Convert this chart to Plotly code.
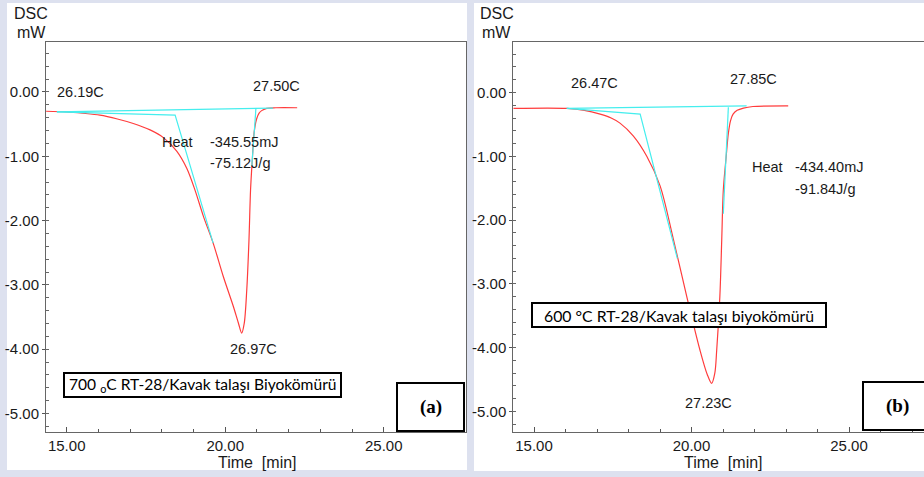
import plotly.graph_objects as go

W, H = 924, 477

# ---------------- data ----------------
# Panel (a): 700 °C biochar
a_time = [14.35, 15.0, 15.5, 16.05, 16.6, 17.1, 17.63, 18.05, 18.47, 18.79, 19.05, 19.31,
          19.62, 19.94, 20.26, 20.42, 20.52, 20.60, 20.68, 20.75,
          20.80, 20.86, 20.91, 20.99, 21.07, 21.15, 21.31, 21.6, 22.27]
a_dsc = [-0.30, -0.31, -0.33, -0.36, -0.42, -0.49, -0.59, -0.71, -0.92, -1.19, -1.53, -1.93,
         -2.35, -2.87, -3.34, -3.60, -3.75, -3.60, -3.08, -2.30,
         -1.52, -1.01, -0.64, -0.42, -0.33, -0.29, -0.255, -0.245, -0.245]
a_base_time = [14.69, 21.51]
a_base_dsc = [-0.31, -0.25]
a_tan_time = [14.69, 18.42, 19.62]
a_tan_dsc = [-0.31, -0.36, -2.35]
a_end_time = [20.97, 20.84]
a_end_dsc = [-0.25, -1.15]

# Panel (b): 600 °C biochar
b_time = [14.34, 16.04, 16.6, 17.10, 17.45, 17.73, 18.15, 18.58, 19.00, 19.42, 19.85, 20.27,
          20.50, 20.64, 20.74, 20.80, 20.90, 20.96, 21.01, 21.10, 21.17, 21.24, 21.32, 21.45,
          21.65, 21.95, 23.07]
b_dsc = [-0.25, -0.25, -0.28, -0.34, -0.40, -0.48, -0.68, -1.00, -1.46, -2.29, -3.20, -4.04,
         -4.42, -4.56, -4.40, -4.04, -3.20, -2.31, -1.53, -1.01, -0.64, -0.44, -0.34, -0.28,
         -0.245, -0.22, -0.21]
b_base_time = [16.04, 21.75]
b_base_dsc = [-0.25, -0.21]
b_tan_time = [16.04, 18.37, 19.55]
b_tan_dsc = [-0.25, -0.34, -2.60]
b_end_time = [21.17, 21.01]
b_end_dsc = [-0.23, -1.90]

x_ticks = [15, 20, 25]
y_ticks = [0, -1, -2, -3, -4, -5]
x_ticktext = ["%.2f" % v for v in x_ticks]
y_ticktext = ["%.2f" % v for v in y_ticks]

RED = "#ff3c3c"
CYAN = "#45eeee"
FONT = "Liberation Sans"

def px(x):
    return x / W

def py(y):
    return 1 - y / H

fig = go.Figure()

for t, v, xa, ya in [(a_time, a_dsc, "x", "y"), (b_time, b_dsc, "x2", "y2")]:
    fig.add_trace(go.Scatter(x=t, y=v, mode="lines", xaxis=xa, yaxis=ya,
                             line=dict(color=RED, width=1.2, shape="spline", smoothing=0.9),
                             showlegend=False, hoverinfo="skip"))

for t, v, xa, ya in [(a_base_time, a_base_dsc, "x", "y"), (a_tan_time, a_tan_dsc, "x", "y"),
                     (a_end_time, a_end_dsc, "x", "y"),
                     (b_base_time, b_base_dsc, "x2", "y2"), (b_tan_time, b_tan_dsc, "x2", "y2"),
                     (b_end_time, b_end_dsc, "x2", "y2")]:
    fig.add_trace(go.Scatter(x=t, y=v, mode="lines", xaxis=xa, yaxis=ya,
                             line=dict(color=CYAN, width=1.2),
                             showlegend=False, hoverinfo="skip"))

def xaxis_cfg(dom, rng, anchor):
    return dict(domain=dom, range=rng, anchor=anchor, tickvals=x_ticks, ticktext=x_ticktext,
                ticks="inside", ticklen=5, tickcolor="#555", showline=True, linecolor="#666",
                linewidth=1, mirror=True, showgrid=False, zeroline=False,
                tickfont=dict(family=FONT, size=15, color="#1a1a1a"),
                minor=dict(dtick=1, tick0=0, ticks="inside", ticklen=3, tickcolor="#555", showgrid=False),
                fixedrange=True)

def yaxis_cfg(dom, rng, anchor):
    return dict(domain=dom, range=rng, anchor=anchor, tickvals=y_ticks, ticktext=y_ticktext,
                ticks="outside", ticklen=3, tickcolor="#555", showline=True, linecolor="#666",
                linewidth=1, mirror=True, showgrid=False, zeroline=False,
                tickfont=dict(family=FONT, size=15, color="#1a1a1a"),
                minor=dict(dtick=0.2, tick0=0, ticks="inside", ticklen=3, tickcolor="#666", showgrid=False),
                fixedrange=True)

shapes = [
    dict(type="rect", xref="paper", yref="paper", x0=px(7), x1=px(467), y0=py(470), y1=py(3),
         fillcolor="white", line=dict(width=0), layer="below"),
    dict(type="rect", xref="paper", yref="paper", x0=px(474), x1=px(924), y0=py(471), y1=py(3),
         fillcolor="white", line=dict(width=0), layer="below"),
    # sample label boxes
    dict(type="rect", xref="paper", yref="paper", x0=px(64), x1=px(341), y0=py(397), y1=py(373),
         fillcolor="white", line=dict(color="black", width=2)),
    dict(type="rect", xref="paper", yref="paper", x0=px(532), x1=px(826), y0=py(327), y1=py(303),
         fillcolor="white", line=dict(color="black", width=2)),
    # panel letter boxes
    dict(type="rect", xref="paper", yref="paper", x0=px(397), x1=px(464), y0=py(431), y1=py(383),
         fillcolor="white", line=dict(color="black", width=2)),
    dict(type="rect", xref="paper", yref="paper", x0=px(863), x1=px(935), y0=py(430), y1=py(382),
         fillcolor="white", line=dict(color="black", width=2)),
]

annotations = []

def txt(x, y, s, xref="paper", yref="paper", xanchor="left", yanchor="middle", size=14.5,
        family=FONT, color="#1a1a1a"):
    annotations.append(dict(x=x, y=y, xref=xref, yref=yref, text=s, showarrow=False,
                            xanchor=xanchor, yanchor=yanchor,
                            font=dict(family=family, size=size, color=color)))

# axis titles
for cx in (31, 497):
    txt(px(cx), py(13), "DSC", xanchor="center", size=16)
    txt(px(cx), py(32), "mW", xanchor="center", size=16)
txt(px(257), py(462), "Time&nbsp;&nbsp;[min]", xanchor="center", size=16)
txt(px(723), py(462), "Time&nbsp;&nbsp;[min]", xanchor="center", size=16)

# panel (a) peak annotations
txt(14.62, 0.0, "26.19C", "x", "y")
txt(20.81, 0.093, "27.50C", "x", "y")
txt(17.94, -0.78, "Heat", "x", "y")
txt(19.46, -0.78, "-345.55mJ", "x", "y")
txt(19.46, -1.10, "-75.12J/g", "x", "y")
txt(20.09, -3.99, "26.97C", "x", "y")

# panel (b) peak annotations
txt(16.11, 0.15, "26.47C", "x2", "y2")
txt(21.16, 0.21, "27.85C", "x2", "y2")
txt(21.86, -1.17, "Heat", "x2", "y2")
txt(23.22, -1.17, "-434.40mJ", "x2", "y2")
txt(23.22, -1.51, "-91.84J/g", "x2", "y2")
txt(19.73, -4.87, "27.23C", "x2", "y2")

# sample labels
txt(px(202.5), py(385), "700 <sub>o</sub>C RT-28/Kavak talaşı Biyokömürü", xanchor="center",
    size=15.6, family="Lato", color="black")
txt(px(679), py(315), "600 °C RT-28/Kavak talaşı biyokömürü", xanchor="center",
    size=15.8, family="Lato", color="black")
txt(px(430.5), py(407), "<b>(a)</b>", xanchor="center", size=19, family="Liberation Serif", color="black")
txt(px(897), py(406), "<b>(b)</b>", xanchor="center", size=19, family="Liberation Serif", color="black")

fig.update_layout(
    width=W, height=H, margin=dict(l=0, r=0, t=0, b=0),
    paper_bgcolor="#dde1ef", plot_bgcolor="white",
    xaxis=xaxis_cfg([px(46), px(466)], [14.347, 27.596], "y"),
    yaxis=yaxis_cfg([py(432), py(41.5)], [-5.288, 0.785], "x"),
    xaxis2=xaxis_cfg([px(513.3), 1.0], [14.343, 27.381], "y2"),
    yaxis2=yaxis_cfg([py(431.7), py(41.7)], [-5.317, 0.796], "x2"),
    shapes=shapes, annotations=annotations, showlegend=False,
)

fig.write_html("out.html", config={"displayModeBar": False},
               post_script="document.body.style.margin='0px';"
                           "document.body.style.background='#dde1ef';")
